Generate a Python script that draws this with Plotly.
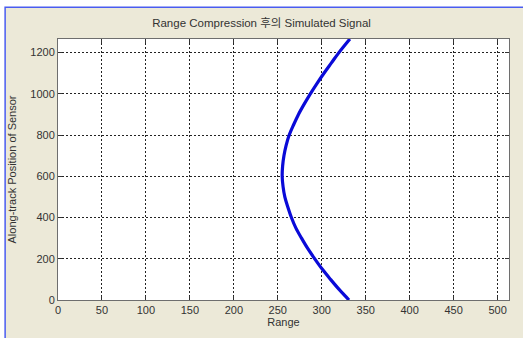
import plotly.graph_objects as go

# Data
along_track = [0, 50, 100, 150, 200, 250, 300, 350, 400, 450, 500, 550, 600,
               650, 700, 750, 800, 850, 900, 950, 1000, 1050, 1100, 1150, 1200, 1266]
range_pos = [331, 320, 310, 300.5, 292, 284, 277, 270.5, 265.5, 261.5, 258, 256, 255,
             255.5, 257, 259.5, 263, 268, 273.5, 280, 287, 294.5, 302.5, 311, 319.5, 332]

x_ticks = [0, 50, 100, 150, 200, 250, 300, 350, 400, 450, 500]
y_ticks = [0, 200, 400, 600, 800, 1000, 1200]

W, H = 523, 338
L, R, T, B = 57, 14, 39, 35
pw, ph = W - L - R, H - T - B

def px(x):
    return (x - L) / pw

def py(y):
    return (H - B - y) / ph

fig = go.Figure()
fig.add_trace(go.Scatter(
    x=range_pos, y=along_track, mode="lines",
    line=dict(color="#0a0ad8", width=3.2, shape="spline", smoothing=1.0),
    showlegend=False, hoverinfo="skip",
))

fig.add_shape(type="rect", xref="paper", yref="paper",
              x0=px(4), x1=px(540), y0=py(350), y1=py(7),
              fillcolor="#ece9d8", line=dict(color="#4a5cf0", width=1.5), layer="below")
fig.add_shape(type="rect", xref="paper", yref="paper",
              x0=0, x1=1, y0=0, y1=1,
              fillcolor="white", line=dict(width=0), layer="below")

font = "Liberation Sans, Arial, Noto Sans CJK KR, sans-serif"
axis_common = dict(
    showgrid=True, gridcolor="#222222", gridwidth=1, griddash="2px,2px",
    showline=True, linecolor="#6e6e6e", linewidth=1, mirror="ticks",
    ticks="inside", ticklen=4, tickcolor="#333333",
    zeroline=False, tickfont=dict(family=font, size=11, color="#333333"),
)

fig.update_layout(
    width=W, height=H,
    margin=dict(l=L, r=R, t=T, b=B),
    paper_bgcolor="white", plot_bgcolor="white",
    title=dict(text="Range Compression 후의 Simulated Signal", x=px(283), xanchor="center",
               y=1 - 23 / H, yanchor="middle",
               font=dict(family=font, size=11.5, color="#333333")),
    xaxis=dict(range=[0, 513], tickvals=x_ticks,
               title=dict(text="Range", standoff=2,
                          font=dict(family=font, size=11, color="#333333")),
               **axis_common),
    yaxis=dict(range=[0, 1266], tickvals=y_ticks,
               title=dict(text="Along-track Position of Sensor", standoff=11,
                          font=dict(family=font, size=11, color="#333333")),
               **axis_common),
)

fig.write_html("out.html")
